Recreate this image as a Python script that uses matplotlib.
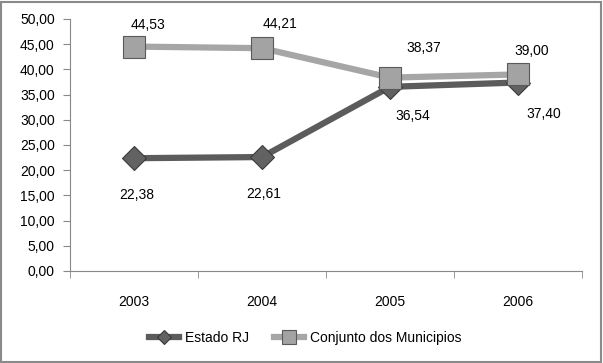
import matplotlib.pyplot as plt
from matplotlib.patches import Rectangle

plt.rcParams['font.family'] = ['Liberation Sans', 'DejaVu Sans']

anos = ['2003', '2004', '2005', '2006']
estado_rj = [22.38, 22.61, 36.54, 37.40]
conjunto = [44.53, 44.21, 38.37, 39.00]
yticks = [0, 5, 10, 15, 20, 25, 30, 35, 40, 45, 50]

def br(v):
    return f'{v:.2f}'.replace('.', ',')

fig = plt.figure(figsize=(6.03, 3.63), dpi=100)
ax = fig.add_axes([70 / 603, 92 / 363, 512 / 603, 252 / 363])

x = list(range(len(anos)))
ax.plot(x, conjunto, color='#a6a6a6', lw=4.5, marker='s', ms=16.5,
        mfc='#a3a3a3', mec='#5a5a5a', mew=0.8, label='Conjunto dos Municipios', zorder=3)
ax.plot(x, estado_rj, color='#5c5c5c', lw=4.5, marker='D', ms=12,
        mfc='#626262', mec='#3a3a3a', mew=0.8, label='Estado RJ', zorder=2)

# rótulos de dados
off_c = [(14, 22), (18, 24), (34, 30), (14, 23)]
off_e = [(3, -37), (2, -37), (23, -29), (26, -31)]
for i in x:
    ax.annotate(br(conjunto[i]), (i, conjunto[i]), xytext=off_c[i], textcoords='offset pixels',
                ha='center', va='center', fontsize=10)
    ax.annotate(br(estado_rj[i]), (i, estado_rj[i]), xytext=off_e[i], textcoords='offset pixels',
                ha='center', va='center', fontsize=10)

ax.set_xlim(-0.5, 3.5)
ax.set_ylim(0, 50)
ax.set_yticks(yticks)
ax.set_yticklabels([br(v) for v in yticks], fontsize=10)
ax.set_xticks(x)
ax.set_xticklabels(anos, fontsize=10)
ax.set_xticks([-0.5, 0.5, 1.5, 2.5, 3.5], minor=True)
ax.tick_params(axis='x', which='major', length=0, pad=17)
ax.tick_params(axis='x', which='minor', length=5, color='#888888')
ax.tick_params(axis='y', length=5, color='#888888', pad=6)
for s in ['top', 'right']:
    ax.spines[s].set_visible(False)
for s in ['left', 'bottom']:
    ax.spines[s].set_color('#888888')

h, l = ax.get_legend_handles_labels()
fig.legend(h[::-1], l[::-1], loc='center', bbox_to_anchor=(305 / 603, 1 - 338 / 363),
           ncol=2, frameon=False, fontsize=10, handlelength=2.2, handletextpad=0.4,
           columnspacing=1.8, markerscale=0.6)

fig.patches.append(Rectangle((1 / 603, 1 / 363), 600 / 603, 360 / 363, transform=fig.transFigure,
                             fill=False, ec='#8a8a8a', lw=1.5))

fig.savefig('out.png', dpi=100)
